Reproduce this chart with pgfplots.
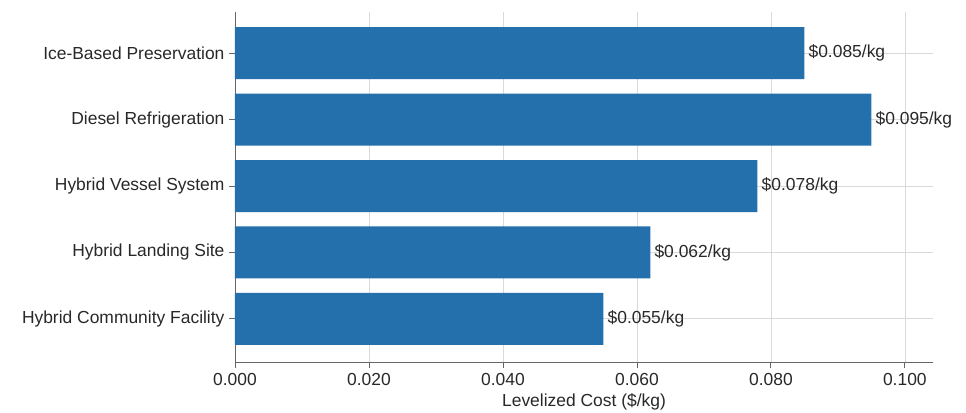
\documentclass[border=0pt]{standalone}
\usepackage{pgfplots}
\pgfplotsset{compat=1.18}
\usepackage{fontspec}
\setmainfont{Liberation Sans}
\definecolor{barblue}{RGB}{36,112,172}
\definecolor{txt}{RGB}{40,40,40}
\begin{document}
\begin{tikzpicture}
\path[use as bounding box] (-235bp,-51bp) rectangle (731bp,362bp);
\begin{axis}[
  at={(0,0)}, anchor=south west,
  width=698bp, height=350bp, scale only axis,
  xbar, bar width=52bp,
  xmin=0, xmax=0.1042, ymin=-0.65, ymax=4.62,
  ytick={0,1,2,3,4},
  yticklabels={Hybrid Community Facility, Hybrid Landing Site, Hybrid Vessel System, Diesel Refrigeration, Ice-Based Preservation},
  xtick={0,0.02,0.04,0.06,0.08,0.1},
  scaled x ticks=false,
  xticklabel style={yshift=-2bp, /pgf/number format/.cd, fixed, fixed zerofill, precision=3},
  /pgf/number format/assume math mode=true,
  axis x line*=bottom, axis y line*=left,
  axis line style={black!60, line width=0.8pt},
  grid=major, major grid style={black!15, line width=0.7pt},
  tick align=outside, major tick length=6bp, tick style={black!60, line width=0.8pt},
  every tick label/.append style={font=\fontsize{17.5}{20}\selectfont, text=txt},
  yticklabel style={xshift=-1bp},
  xlabel={Levelized Cost (\$/kg)},
  xlabel style={font=\fontsize{17.5}{20}\selectfont, text=txt, inner sep=0pt, yshift=-4bp},
  point meta=x,
  nodes near coords={\$\pgfmathprintnumber[fixed,fixed zerofill,precision=3]{\pgfplotspointmeta}/kg},
  nodes near coords align={horizontal},
  every node near coord/.append style={font=\fontsize{17.5}{20}\selectfont, text=txt, anchor=west, inner sep=1bp, xshift=3bp},
]
\addplot[fill=barblue, draw=none] coordinates {(0.055,0) (0.062,1) (0.078,2) (0.095,3) (0.085,4)};
\end{axis}
\end{tikzpicture}
\end{document}
